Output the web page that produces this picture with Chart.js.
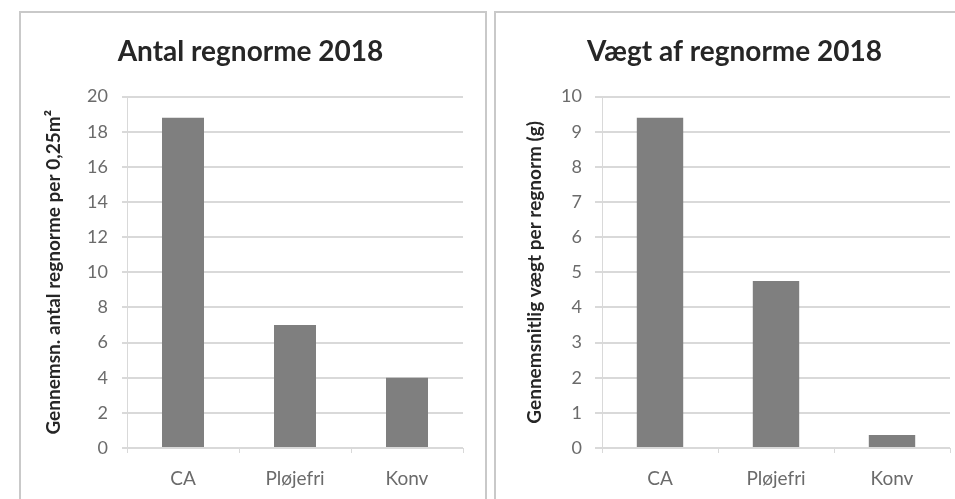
<!DOCTYPE html>
<html>
<head>
<meta charset="utf-8">
<script src="https://cdn.jsdelivr.net/npm/chart.js@4"></script>
<style>
  html, body { margin: 0; padding: 0; background: #fff; }
  body { position: relative; width: 955px; height: 499px; overflow: hidden; }
  .box { position: absolute; border: 2px solid #c9c9c9; box-sizing: border-box; }
  canvas { position: absolute; }
</style>
</head>
<body>
<div class="box" style="left:19px; top:11px; width:468px; height:510px;"></div>
<div class="box" style="left:494px; top:11px; width:470px; height:510px;"></div>
<canvas id="count-chart" width="463" height="499" style="left:21px; top:0;"></canvas>
<canvas id="weight-chart" width="457" height="499" style="left:496px; top:0;"></canvas>
<script>
// Categories shared by both charts
const categories = ['CA', 'Pløjefri', 'Konv'];

// Average number of earthworms per 0.25 m2
const countValues = [18.8, 7.0, 4.0];
// Average weight per earthworm (g)
const weightValues = [9.4, 4.75, 0.37];

const barColor = '#7f7f7f';
const gridColor = '#d9d9d9';
const labelColor = '#6b6b6b';
const fontFamily = 'Lato, "Open Sans", sans-serif';

// Build one bar chart, with the plot area placed by padding and fixed axis sizes
function makeChart(id, opts) {
  const ctx = document.getElementById(id).getContext('2d');
  return new Chart(ctx, {
    type: 'bar',
    data: {
      labels: categories,
      datasets: [{
        data: opts.values,
        backgroundColor: barColor,
        borderWidth: 0,
        barPercentage: opts.barPercentage,
        categoryPercentage: 1
      }]
    },
    options: {
      responsive: false,
      animation: false,
      devicePixelRatio: 1,
      layout: { padding: { left: opts.padLeft, right: opts.padRight, top: 0, bottom: 0 } },
      plugins: {
        legend: { display: false },
        tooltip: { enabled: false },
        title: {
          display: true,
          text: opts.title,
          color: '#262626',
          font: { family: fontFamily, size: 28, weight: 'bold' },
          padding: { top: 35, bottom: 28 }
        }
      },
      scales: {
        x: {
          afterFit: function (scale) { scale.height = 51; },
          grid: { drawOnChartArea: false, color: gridColor, tickLength: 5 },
          border: { color: gridColor },
          ticks: { color: labelColor, font: { family: fontFamily, size: 19 }, padding: 14 }
        },
        y: {
          min: 0,
          max: opts.max,
          afterFit: function (scale) { scale.width = opts.axisWidth; },
          grid: { color: gridColor, lineWidth: 2, tickLength: opts.tickLength },
          border: { color: gridColor },
          ticks: {
            stepSize: opts.step,
            color: labelColor,
            font: { family: fontFamily, size: 18 },
            padding: opts.tickPadding
          },
          title: {
            display: true,
            text: opts.axisTitle,
            color: '#262626',
            font: { family: fontFamily, size: 19, weight: 'bold' },
            padding: { top: 4, bottom: 0 }
          }
        }
      }
    }
  });
}

makeChart('count-chart', {
  values: countValues,
  title: 'Antal regnorme 2018',
  axisTitle: 'Gennemsn. antal regnorme per 0,25m²',
  max: 20,
  step: 2,
  barPercentage: 0.375,
  padLeft: 17,
  padRight: 21,
  axisWidth: 89,
  tickLength: 5,
  tickPadding: 14
});

makeChart('weight-chart', {
  values: weightValues,
  title: 'Vægt af regnorme 2018',
  axisTitle: 'Gennemsnitlig vægt per regnorm (g)',
  max: 10,
  step: 1,
  barPercentage: 0.4,
  padLeft: 23,
  padRight: 3,
  axisWidth: 83,
  tickLength: 7,
  tickPadding: 13
});
</script>
</body>
</html>
